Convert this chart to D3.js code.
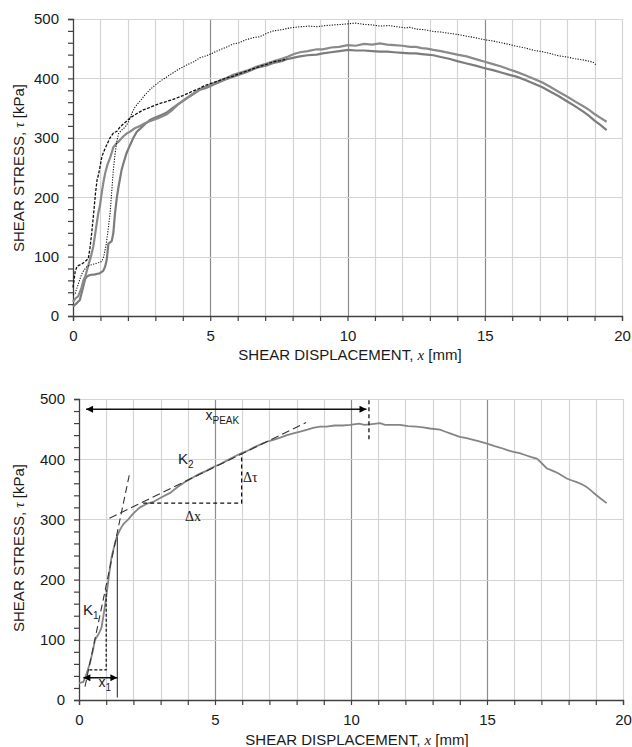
<!DOCTYPE html>
<html><head><meta charset="utf-8">
<script src="https://cdn.jsdelivr.net/npm/d3@7"></script>
<style>body{margin:0;background:#fff}svg{display:block}</style>
</head><body>
<svg id="c" width="632" height="747"></svg>
<script>
// ---------- data ----------
const xTickValues = d3.range(0, 21, 1);
const xLabelTicks = [0, 5, 10, 15, 20];
const yTickValues = d3.range(0, 501, 20);
const yLabelTicks = [0, 100, 200, 300, 400, 500];
const majorGridX = [5, 10, 15];

// top chart: black fine-dotted curve
const topDotted = [[0,35],[0.08,38],[0.15,48],[0.25,62],[0.35,74],[0.5,83],[0.65,86],[0.8,88],[0.95,90],[1.05,92],[1.12,100],[1.2,118],[1.28,145],[1.35,173],[1.42,215],[1.47,246],[1.53,272],[1.6,295],[1.66,307],[1.75,312],[1.85,316],[1.95,321],[2.05,330],[2.15,342],[2.25,351],[2.35,357],[2.45,362],[2.6,371],[2.8,381],[3.0,389],[3.2,396],[3.4,402],[3.6,408],[3.8,414],[4.0,419],[4.2,424],[4.4,428],[4.63,435],[4.85,438],[5.05,442],[5.3,447],[5.6,453],[5.84,458],[6.05,460],[6.3,465],[6.6,469],[6.8,470],[7.06,476],[7.3,480],[7.6,482],[7.9,485],[8.27,487],[8.6,488],[8.9,487],[9.2,489],[9.5,490],[9.8,491],[10.03,492],[10.3,493],[10.6,491],[10.9,490],[11.18,488],[11.5,489],[11.8,487],[12.1,485],[12.28,486],[12.5,483],[12.8,482],[13.13,479],[13.4,478],[13.7,476],[14.0,474],[14.34,471],[14.6,469],[15.0,465],[15.3,463],[15.6,460],[15.9,457],[16.16,454],[16.5,451],[16.8,447],[17.1,445],[17.38,442],[17.7,438],[18.0,436],[18.3,433],[18.59,431],[18.8,429],[18.95,427],[19.08,422]];
// top chart: black dashed curve
const topDashed = [[0,48],[0.08,75],[0.15,84],[0.3,87],[0.45,92],[0.56,97],[0.62,115],[0.68,139],[0.75,172],[0.82,207],[0.88,230],[0.92,236],[0.98,250],[1.05,268],[1.15,280],[1.25,290],[1.35,300],[1.47,308],[1.6,311],[1.71,318],[1.85,324],[1.95,328],[2.1,334],[2.3,340],[2.56,347],[2.8,351],[3.0,355],[3.17,358],[3.4,361],[3.6,364],[3.78,367],[4.0,371],[4.2,375],[4.38,379],[4.6,383],[4.8,388],[5.05,392],[5.3,396],[5.6,401],[5.84,404],[6.05,408],[6.3,412],[6.55,416],[6.8,420],[7.06,424],[7.3,428],[7.55,430],[7.8,433]];
// top chart: grey curve A
const topGrayA = [[0,24],[0.1,30],[0.19,33],[0.3,46],[0.38,60],[0.45,67],[0.55,84],[0.65,100],[0.74,117],[0.83,145],[0.92,173],[0.98,185],[1.05,208],[1.1,223],[1.17,240],[1.25,254],[1.35,266],[1.47,284],[1.57,290],[1.65,293],[1.8,301],[1.95,307],[2.1,311],[2.25,316],[2.44,320],[2.6,324],[2.8,328],[3.1,333],[3.4,339],[3.6,346],[3.8,355],[4.0,362],[4.2,369],[4.4,375],[4.63,382],[4.85,386],[5.05,390],[5.3,395],[5.55,400],[5.84,406],[6.1,410],[6.4,414],[6.7,420],[7.06,425],[7.3,429],[7.6,433],[7.84,437],[8.05,441],[8.27,444],[8.55,446],[8.88,449],[9.1,449],[9.4,452],[9.7,453],[10.0,456],[10.3,455],[10.6,458],[10.9,457],[11.18,459],[11.45,457],[11.7,456],[12.0,455],[12.28,453],[12.5,453],[12.7,451],[12.9,450],[13.13,448],[13.4,446],[13.7,443],[14.0,440],[14.34,437],[14.7,432],[15.0,428],[15.3,424],[15.6,420],[15.9,415],[16.16,411],[16.5,405],[16.8,399],[17.1,393],[17.38,386],[17.7,377],[17.98,370],[18.3,361],[18.59,353],[18.8,347],[19.0,340],[19.2,334],[19.44,327]];
// top chart: grey curve B
const topGrayB = [[0,16],[0.1,20],[0.25,27],[0.35,45],[0.44,62],[0.52,67],[0.62,69],[0.8,70],[0.98,72],[1.1,76],[1.17,83],[1.23,95],[1.29,122],[1.35,124],[1.41,126],[1.47,140],[1.53,173],[1.6,200],[1.65,215],[1.77,246],[1.83,256],[1.95,274],[2.08,288],[2.2,300],[2.32,310],[2.44,315],[2.6,322],[2.8,330],[3.0,334],[3.2,338],[3.4,342],[3.6,349],[3.8,356],[4.0,362],[4.2,368],[4.4,374],[4.63,381],[4.85,384],[5.05,388],[5.3,393],[5.55,398],[5.84,403],[6.1,407],[6.4,412],[6.7,418],[7.06,422],[7.3,426],[7.6,429],[7.84,433],[8.05,435],[8.27,437],[8.55,439],[8.88,440],[9.1,442],[9.4,444],[9.7,446],[10.03,448],[10.3,447],[10.6,447],[10.9,446],[11.18,445],[11.45,445],[11.7,444],[12.0,443],[12.28,442],[12.5,442],[12.7,441],[12.9,440],[13.13,439],[13.4,436],[13.7,433],[14.0,429],[14.34,425],[14.7,421],[15.0,417],[15.3,414],[15.6,410],[15.9,406],[16.16,403],[16.5,397],[16.8,391],[17.1,385],[17.38,378],[17.7,370],[17.98,362],[18.3,353],[18.59,344],[18.8,337],[19.0,329],[19.2,322],[19.44,313]];

// bottom chart: single grey curve
const bottomCurve = [[0,28],[0.16,30],[0.28,44],[0.4,61],[0.5,80],[0.59,100],[0.7,108],[0.77,114],[0.83,121],[0.9,140],[0.96,158],[1.02,178],[1.08,199],[1.14,220],[1.2,238],[1.3,256],[1.39,271],[1.5,282],[1.57,288],[1.65,293],[1.81,300],[2.0,310],[2.24,320],[2.5,326],[2.73,329],[3.0,336],[3.35,344],[3.6,353],[3.96,364],[4.2,370],[4.45,376],[4.7,381],[4.94,387],[5.2,392],[5.45,398],[5.7,404],[5.98,410],[6.2,414],[6.45,420],[6.7,425],[6.9,429],[7.15,432],[7.4,436],[7.65,440],[7.88,443],[8.13,446],[8.4,449],[8.6,452],[8.86,454],[9.1,454],[9.4,456],[9.7,456],[9.96,457],[10.3,459],[10.5,457],[10.7,458],[11.07,460],[11.25,457],[11.43,457],[11.8,457],[12.1,455],[12.41,454],[12.65,453],[12.9,451],[13.27,449],[13.45,446],[13.64,443],[14.0,437],[14.25,435],[14.5,432],[14.75,429],[15.0,426],[15.25,422],[15.5,419],[15.75,415],[15.97,412],[16.2,410],[16.4,407],[16.6,404],[16.83,401],[17.0,394],[17.19,385],[17.4,381],[17.6,377],[17.93,368],[18.1,365],[18.3,362],[18.5,358],[18.66,354],[18.85,347],[19.0,341],[19.2,334],[19.4,327]];

// bottom chart annotation geometry (data units: mm, kPa)
const k1Line = [[0.22, 22], [1.85, 374]];
const k2Line = [[1.12, 302], [8.35, 461]];
const deltaTriangle = [[2.36, 327], [5.98, 327], [5.98, 409]];
const x1Corner = [[0.38, 50], [1.0, 50], [1.0, 183]];
const x1RefLine = [[1.41, 4], [1.41, 271]];
const xPeakArrow = [[0.26, 483], [10.57, 483]];
const xPeakMark = [[10.66, 498], [10.66, 432]];
const x1Arrow = [[0.16, 37], [1.41, 37]];

// ---------- drawing ----------
const svg = d3.select('#c');
svg.append('rect').attr('width', 632).attr('height', 747).attr('fill', '#fff');

const defs = svg.append('defs');
['start', 'end'].forEach(k => {
  defs.append('marker')
    .attr('id', 'arr-' + k)
    .attr('viewBox', '0 0 10 10')
    .attr('refX', k === 'end' ? 10 : 0).attr('refY', 5)
    .attr('markerWidth', 9).attr('markerHeight', 7)
    .attr('markerUnits', 'userSpaceOnUse')
    .attr('orient', 'auto')
    .append('path')
    .attr('d', k === 'end' ? 'M0,0 L10,5 L0,10 Z' : 'M10,0 L0,5 L10,10 Z')
    .attr('fill', '#000');
});

const FONT = '"Liberation Sans", Arial, sans-serif';
const SERIF = '"Liberation Serif", "Times New Roman", serif';

function panel(cfg) {
  const x = d3.scaleLinear().domain([0, 20]).range([cfg.x0, cfg.x1]);
  const y = d3.scaleLinear().domain([0, 500]).range([cfg.y0, cfg.y1]);
  const g = svg.append('g');

  // grid
  g.append('g').selectAll('line.v').data(xTickValues.filter(d => d > 0)).join('line')
    .attr('x1', d => Math.round(x(d)) + 0.5).attr('x2', d => Math.round(x(d)) + 0.5)
    .attr('y1', y(0)).attr('y2', y(500))
    .attr('stroke', d => majorGridX.includes(d) ? '#8c8c8c' : '#d4d4d4')
    .attr('stroke-width', 1.2);
  g.append('g').selectAll('line.h').data(yLabelTicks.filter(d => d > 0)).join('line')
    .attr('x1', x(0)).attr('x2', x(20))
    .attr('y1', d => Math.round(y(d)) + 0.5).attr('y2', d => Math.round(y(d)) + 0.5)
    .attr('stroke', '#d4d4d4').attr('stroke-width', 1.2);

  // axes
  const ax = g.append('g').attr('transform', `translate(0,${y(0)})`)
    .call(d3.axisBottom(x).tickValues(xTickValues).tickSize(5).tickPadding(9)
      .tickFormat(d => xLabelTicks.includes(d) ? d : ''));
  const ay = g.append('g').attr('transform', `translate(${x(0)},0)`)
    .call(d3.axisLeft(y).tickValues(yTickValues).tickSize(5).tickPadding(9)
      .tickFormat(d => yLabelTicks.includes(d) ? d : ''));
  [ax, ay].forEach(a => {
    a.select('.domain').attr('stroke', '#404040').attr('stroke-width', 1.3);
    a.selectAll('.tick line').attr('stroke', '#404040').attr('stroke-width', 1.2);
    a.selectAll('.tick text').attr('font-family', FONT).attr('font-size', 15).attr('fill', '#1a1a1a');
  });

  // axis titles
  const xt = svg.append('text').attr('x', cfg.xTitleX).attr('y', cfg.xTitleY)
    .attr('text-anchor', 'middle').attr('font-family', FONT).attr('font-size', 15).attr('fill', '#1a1a1a');
  xt.append('tspan').text('SHEAR DISPLACEMENT, ');
  xt.append('tspan').attr('font-family', SERIF).attr('font-style', 'italic').text('x');
  xt.append('tspan').text(' [mm]');

  const yt = svg.append('text')
    .attr('transform', `translate(${cfg.yTitleX},${cfg.yTitleY}) rotate(-90)`)
    .attr('text-anchor', 'middle').attr('font-family', FONT).attr('font-size', 15).attr('fill', '#1a1a1a');
  yt.append('tspan').text('SHEAR STRESS, ');
  yt.append('tspan').attr('font-family', SERIF).attr('font-style', 'italic').text('τ');
  yt.append('tspan').text('  [kPa]');

  const line = d3.line().x(d => x(d[0])).y(d => y(d[1]));
  return { x, y, g, line };
}

// top panel
const P1 = panel({ x0: 73, x1: 622, y0: 316, y1: 19, xTitleX: 350, xTitleY: 360, yTitleX: 24, yTitleY: 168 });
P1.g.append('path').datum(topGrayB).attr('d', P1.line)
  .attr('fill', 'none').attr('stroke', '#7c7c7c').attr('stroke-width', 2.2);
P1.g.append('path').datum(topGrayA).attr('d', P1.line)
  .attr('fill', 'none').attr('stroke', '#8a8a8a').attr('stroke-width', 2.2);
P1.g.append('path').datum(topDashed).attr('d', P1.line)
  .attr('fill', 'none').attr('stroke', '#111').attr('stroke-width', 1.3).attr('stroke-dasharray', '3,1.5');
P1.g.append('path').datum(topDotted).attr('d', P1.line)
  .attr('fill', 'none').attr('stroke', '#111').attr('stroke-width', 1.1).attr('stroke-dasharray', '1.2,1.4');

// bottom panel
const P2 = panel({ x0: 79, x1: 623, y0: 700, y1: 399, xTitleX: 357, xTitleY: 745, yTitleX: 24, yTitleY: 548 });
const { x: X2, y: Y2, g: G2, line: L2 } = P2;

G2.append('path').datum(bottomCurve).attr('d', L2)
  .attr('fill', 'none').attr('stroke', '#858585').attr('stroke-width', 1.8);

// annotations
function dashed(pts, dash, w, col) {
  G2.append('path').datum(pts).attr('d', L2).attr('fill', 'none')
    .attr('stroke', col || '#1a1a1a').attr('stroke-width', w || 1.1)
    .attr('stroke-dasharray', dash || null);
}
dashed(k1Line, '7,4', 1.1, '#333');
dashed(k2Line, '8,4', 1.1, '#333');
dashed(deltaTriangle, '4,3', 1.3, '#111');
dashed(x1Corner, '3,2', 1.2, '#111');
dashed(x1RefLine, null, 1.2, '#444');
dashed(xPeakMark, '4,3', 1.3, '#111');

G2.append('path').datum(xPeakArrow).attr('d', L2).attr('fill', 'none')
  .attr('stroke', '#111').attr('stroke-width', 1.3)
  .attr('marker-start', 'url(#arr-start)').attr('marker-end', 'url(#arr-end)');
G2.append('path').datum(x1Arrow).attr('d', L2).attr('fill', 'none')
  .attr('stroke', '#111').attr('stroke-width', 1.3)
  .attr('marker-start', 'url(#arr-start)').attr('marker-end', 'url(#arr-end)');

function subLabel(mx, kpa, main, sub, size) {
  const t = G2.append('text').attr('x', X2(mx)).attr('y', Y2(kpa))
    .attr('font-family', FONT).attr('font-size', size || 14).attr('fill', '#1a1a1a');
  t.append('tspan').text(main);
  t.append('tspan').attr('font-size', 10).attr('dy', 4).text(sub);
}
subLabel(4.65, 465, 'x', 'PEAK', 14);
subLabel(3.64, 392, 'K', '2', 15);
subLabel(0.15, 142, 'K', '1', 15);
subLabel(0.72, 22, 'x', '1', 14);

G2.append('text').attr('x', X2(6.03)).attr('y', Y2(362))
  .attr('font-family', SERIF).attr('font-size', 14).attr('fill', '#1a1a1a').text('Δτ');
G2.append('text').attr('x', X2(3.9)).attr('y', Y2(298))
  .attr('font-family', SERIF).attr('font-size', 14).attr('fill', '#1a1a1a').text('Δx');
</script>
</body></html>
